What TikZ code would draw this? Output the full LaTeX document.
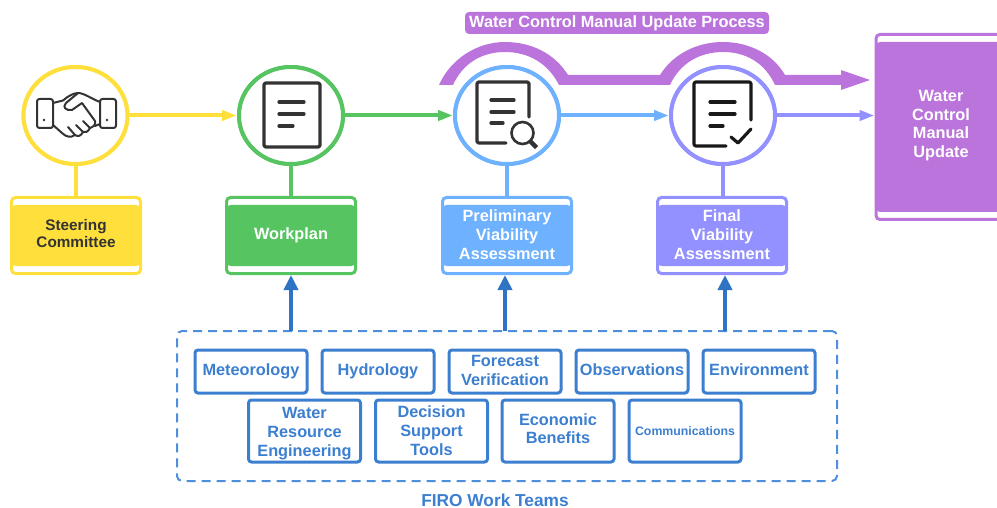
\documentclass[tikz,border=0pt]{standalone}
\usepackage{fontspec}
\setmainfont{Liberation Sans}
\usetikzlibrary{arrows.meta,shapes.geometric}
\definecolor{cyel}{HTML}{FFDF3C}
\definecolor{cgrn}{HTML}{55C461}
\definecolor{cblu}{HTML}{6DB1FF}
\definecolor{cper}{HTML}{9391FF}
\definecolor{cpur}{HTML}{BB74DB}
\definecolor{cteam}{HTML}{3C7FD0}
\definecolor{cdash}{HTML}{4F8EDC}
\definecolor{carr}{HTML}{2F74C4}
\definecolor{cdark}{HTML}{333333}
\newcommand{\dropby}[1]{\rule[-#1]{0pt}{#1}}
\newcommand{\topby}[1]{\rule{0pt}{#1}}
\tikzset{
  x=1pt,y=-1pt,
  base text/.style={font=\fontsize{16.3}{19}\selectfont\bfseries,align=center,inner sep=0pt},
  ring/.style={ellipse,draw=#1,line width=4pt,fill=white,minimum width=104pt,minimum height=97pt,inner sep=0pt},
  band box/.style={base text,rectangle,rounded corners=4pt,draw=#1,line width=3pt,fill=white,
    minimum width=129pt,minimum height=76pt,text=white,
    path picture={\fill[#1] ([yshift=-7.5pt]path picture bounding box.north west) rectangle ([yshift=7.5pt]path picture bounding box.south east);}},
  link/.style={draw=#1,line width=4pt},
  flow/.style={draw=#1,line width=4pt,-{Triangle[length=15pt,width=10pt]}},
  feed/.style={draw=carr,line width=4.5pt,-{Triangle[length=15pt,width=14pt]}},
  team/.style={base text,rectangle,rounded corners=3pt,draw=cteam,line width=3pt,text=cteam,minimum width=112pt},
  icon/.style={draw=cdark,line width=3.2pt,line cap=round,line join=round},
  thin icon/.style={draw=cdark,line width=2pt,line cap=round,line join=round},
}
\begin{document}
\begin{tikzpicture}
\clip (0,0) rectangle (997,508);
% big process arrow
\fill[cpur] (439,85) .. controls (451,58) and (478,42) .. (505,42)
  .. controls (532,42) and (555,54) .. (568,75) -- (660,75)
  .. controls (673,54) and (697,42) .. (723,42)
  .. controls (749,42) and (773,54) .. (785,75) -- (841,75) -- (841,70) -- (870,80) -- (841,90) -- (841,85)
  -- (775,85) .. controls (765,63) and (746,52) .. (723,52)
  .. controls (700,52) and (680,63) .. (670,85) -- (559,85)
  .. controls (548,63) and (528,52) .. (505,52)
  .. controls (482,52) and (463,63) .. (453,85) -- cycle;
\node[base text,fill=cpur,text=white,rounded corners=4pt,minimum width=304pt,minimum height=22pt] (title) at (617,23) {Water Control Manual Update Process};

% circles
\node[ring=cyel] (c1) at (75.5,115.5) {};
\node[ring=cgrn] (c2) at (291,115.5) {};
\node[ring=cblu] (c3) at (507,115.5) {};
\node[ring=cper] (c4) at (723,115.5) {};

% boxes
\node[band box=cyel,text=cdark,font=\fontsize{15.3}{17.5}\selectfont\bfseries] (b1) at (76,235.5) {Steering\\Committee\dropby{4pt}};
\node[band box=cgrn] (b2) at (291,235.5) {Workplan};
\node[band box=cblu] (b3) at (507,235.5) {Preliminary\\Viability\\Assessment\dropby{2pt}};
\node[band box=cper] (b4) at (722,235.5) {Final\\Viability\\Assessment\dropby{2pt}};
\node[band box=cpur,minimum width=130pt,minimum height=185pt,font=\fontsize{16.3}{18.7}\selectfont\bfseries] (b5) at (941,127) {Water\\Control\\Manual\\Update\dropby{6.3pt}};

% connectors
\draw[link=cyel] (c1) -- (b1.north -| c1);
\draw[link=cgrn] (c2) -- (b2);
\draw[link=cblu] (c3) -- (b3);
\draw[link=cper] (c4) -- (c4 |- b4.north);
\draw[flow=cyel] (c1) -- (c2);
\draw[flow=cgrn] (c2) -- (c3);
\draw[flow=cblu] (c3) -- (c4);
\draw[flow=cper] (c4) -- (c4 -| b5.west);
% redraw rings over link starts
\node[ring=cyel] at (c1) {};
\node[ring=cgrn] at (c2) {};
\node[ring=cblu] at (c3) {};
\node[ring=cper] at (c4) {};

% handshake icon
\begin{scope}[thin icon]
\draw[rounded corners=2.5pt] (37,99) rectangle (53,128);
\draw[rounded corners=2.5pt] (100,99) rectangle (116,128);
\draw (53,103) -- (63,100.5) .. controls (68,96) and (74,93) .. (78,93) .. controls (84,93) and (92,99) .. (100,102);
\draw (78,93) -- (66,103) .. controls (62,107) and (66,111) .. (72,110) -- (82,103) -- (95,121) .. controls (96,125) and (93,127) .. (90,128)
  .. controls (88,132) and (85,133) .. (83,132) .. controls (81,136) and (78,137) .. (75,135) .. controls (71,138) and (66,137) .. (62,133) -- (53,125);
\draw (68,127) -- (75,135);
\draw (76,125) -- (83,132);
\draw (83,121) -- (90,128);
\draw (95,126) -- (100,124);
\fill[cdark,draw=none] (44,120) circle (1.3);
\fill[cdark,draw=none] (107,120) circle (1.3);
\end{scope}

% workplan icon
\begin{scope}[icon]
\draw[rounded corners=1.5pt] (264,83) rectangle (320,147);
\draw (279,102) -- (304,102);
\draw (279,114) -- (304,114);
\draw (279,126) -- (293,126);
\end{scope}

% magnifier document icon
\begin{scope}[icon]
\draw[rounded corners=1.5pt] (506,143) -- (477,143) -- (477,82) -- (529,82) -- (529,117);
\draw (491,100) -- (514,100);
\draw (491,112) -- (514,112);
\draw (491,123) -- (503,123);
\draw[line width=2.6pt] (522.5,133) circle (11);
\draw[line width=4.5pt,line cap=butt] (530,141) -- (536.5,147.5);
\end{scope}

% check document icon
\begin{scope}[icon,draw=black!90]
\draw[rounded corners=2pt] (726,146) -- (694,146) -- (694,82) -- (751,82) -- (751,120);
\draw (710,102) -- (735,102);
\draw (710,114) -- (735,114);
\draw (710,126) -- (723,126);
\draw (731,137) -- (738,143) -- (751,129);
\end{scope}

% work teams
\node[draw=cdash,line width=2pt,dash pattern=on 9pt off 6pt,rounded corners=5pt,minimum width=660pt,minimum height=150pt,inner sep=0pt] (teams) at (507,406) {};
\coordinate (f1) at (291,331);
\coordinate (f2) at (505,331);
\coordinate (f3) at (725,331);
\draw[feed] (f1) -- (f1 |- b2.south);
\draw[feed] (f2) -- (f2 |- b3.south);
\draw[feed] (f3) -- (f3 |- b4.south);

\node[team,minimum height=43pt] (t1) at (251,371.5) {Meteorology};
\node[team,minimum height=43pt] (t2) at (378,371.5) {Hydrology};
\node[team,minimum height=43pt] (t3) at (505,371.5) {Forecast\\Verification\dropby{2pt}};
\node[team,minimum height=43pt] (t4) at (632,371.5) {Observations\dropby{4pt}};
\node[team,minimum height=43pt] (t5) at (759,371.5) {Environment\dropby{4pt}};
\node[team,minimum height=62pt] (t6) at (304.5,431) {\topby{16pt}Water\\Resource\\Engineering};
\node[team,minimum height=62pt] (t7) at (431.5,431) {Decision\\Support\\Tools};
\node[team,minimum height=62pt,font=\fontsize{16.3}{18.5}\selectfont\bfseries] (t8) at (558,431) {Economic\\Benefits\dropby{5pt}};
\node[team,minimum height=62pt,font=\fontsize{12.3}{15}\selectfont\bfseries] (t9) at (685,431) {Communications};
\node[base text,text=cteam,font=\fontsize{17.3}{20}\selectfont\bfseries] (lab) at (495,500) {FIRO Work Teams};
\end{tikzpicture}
\end{document}
